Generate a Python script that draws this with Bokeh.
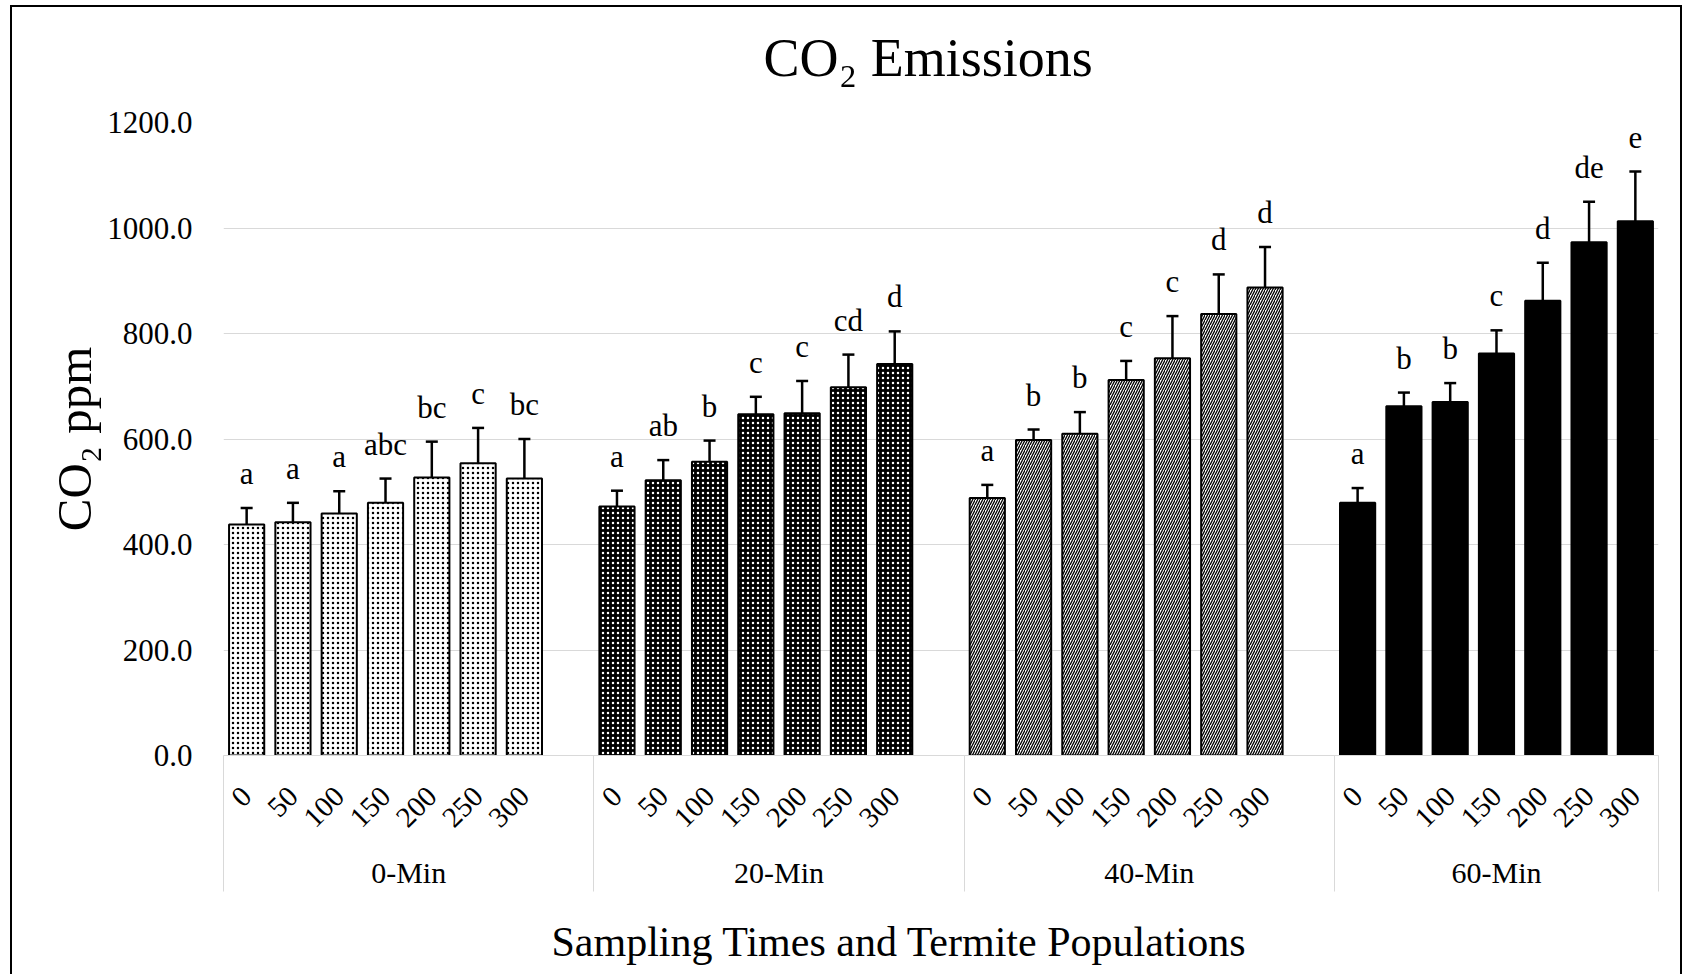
import math
from bokeh.plotting import figure
from bokeh.models import (Range1d, LinearAxis, FixedTicker, NumeralTickFormatter,
                          ColumnDataSource, Whisker, TeeHead, LabelSet, Title)
from bokeh.embed import file_html
from bokeh.resources import INLINE

# ---------------- data ----------------
times = ["0-Min", "20-Min", "40-Min", "60-Min"]
populations = ["0", "50", "100", "150", "200", "250", "300"]

co2_0min = [438, 442, 459, 479, 527, 554, 525]
se_0min = [31, 37, 42, 46, 68, 67, 75]
letters_0min = ["a", "a", "a", "abc", "bc", "c", "bc"]

co2_20min = [472, 522, 557, 647, 649, 698, 742]
se_20min = [30, 38, 40, 33, 61, 62, 62]
letters_20min = ["a", "ab", "b", "c", "c", "cd", "d"]

co2_40min = [488, 598, 610, 712, 753, 837, 887]
se_40min = [25, 20, 41, 36, 80, 75, 77]
letters_40min = ["a", "b", "b", "c", "c", "d", "d"]

co2_60min = [479, 662, 670, 762, 862, 973, 1013]
se_60min = [28, 26, 36, 44, 72, 77, 94]
letters_60min = ["a", "b", "b", "c", "d", "de", "e"]

y_ticks = [0, 200, 400, 600, 800, 1000, 1200]

series = [co2_0min, co2_20min, co2_40min, co2_60min]
errors = [se_0min, se_20min, se_40min, se_60min]
letters = [letters_0min, letters_20min, letters_40min, letters_60min]

FONT = "Liberation Serif"
GRID = "#d9d9d9"

# slot layout: each time group has 7 bars + 1 empty slot (last group has none)
SLOTS_PER_GROUP = 8
n_slots = SLOTS_PER_GROUP * (len(times) - 1) + len(populations)

p = figure(width=1684, height=974, output_backend="svg", toolbar_location=None,
           x_range=Range1d(-0.5, n_slots - 0.5), y_range=Range1d(0, 1200),
           x_axis_location=None, title_location=None,
           min_border_left=223, min_border_right=26, min_border_top=122,
           min_border_bottom=219)
# transparent canvas so the chart-area border (host background) shows through
p.background_fill_color = None
p.border_fill_color = None
p.outline_line_color = None
p.styles = {
    "background": (
        "linear-gradient(#000,#000) 10px 5px / 2px 1200px no-repeat,"
        "linear-gradient(#000,#000) 10px 5px / 1672px 2px no-repeat,"
        "linear-gradient(#000,#000) 1680px 5px / 2px 1200px no-repeat,"
        "#ffffff"
    )
}


def spacer_axis(size):
    """Invisible axis used only to reserve vertical space."""
    ax = LinearAxis(ticker=FixedTicker(ticks=[], minor_ticks=[1.0]))
    ax.axis_line_color = None
    ax.major_tick_line_color = None
    ax.minor_tick_line_color = None
    ax.major_tick_in = 0
    ax.minor_tick_in = 0
    ax.major_tick_out = size
    ax.minor_tick_out = size
    ax.major_label_standoff = 0
    return ax


# chart title (above, pushed up by a spacer)
p.add_layout(spacer_axis(25), "above")
p.add_layout(Title(text="CO\u2082 Emissions", align="left", offset=540, standoff=20,
                   text_font=FONT, text_font_size="54px", text_font_style="normal",
                   text_color="black"), "above")

# y axis
p.yaxis.ticker = FixedTicker(ticks=y_ticks)
p.yaxis.formatter = NumeralTickFormatter(format="0.0")
p.yaxis.major_label_text_font = FONT
p.yaxis.major_label_text_font_size = "31px"
p.yaxis.major_label_text_color = "black"
p.yaxis.axis_line_color = None
p.yaxis.major_tick_line_color = None
p.yaxis.minor_tick_line_color = None
p.yaxis.major_label_standoff = 25
p.yaxis.axis_label = "CO\u2082 ppm"
p.yaxis.axis_label_text_font = FONT
p.yaxis.axis_label_text_font_size = "49px"
p.yaxis.axis_label_text_font_style = "normal"
p.yaxis.axis_label_text_color = "black"
p.yaxis.axis_label_standoff = 2

p.ygrid.ticker = FixedTicker(ticks=y_ticks)
p.ygrid.grid_line_color = GRID
p.xgrid.visible = False

styles = [
    dict(fill_color="white", hatch_pattern="dot", hatch_color="black", hatch_scale=5, hatch_weight=1),
    dict(fill_color="black", hatch_pattern="dot", hatch_color="white", hatch_scale=5, hatch_weight=1),
    dict(fill_color="white", hatch_pattern="right_diagonal_line", hatch_color="black", hatch_scale=5, hatch_weight=1.3),
    dict(fill_color="black"),
]

bar_slots = []
overrides = {}
for g, (vals, errs, lets) in enumerate(zip(series, errors, letters)):
    xs = [g * SLOTS_PER_GROUP + i for i in range(len(vals))]
    bar_slots += xs
    for x, pop in zip(xs, populations):
        overrides[x] = pop
    src = ColumnDataSource(dict(
        x=xs, top=vals,
        upper=[v + e for v, e in zip(vals, errs)],
        lower=[v - e for v, e in zip(vals, errs)],
        letter=lets))
    p.vbar(x="x", top="top", bottom=0, width=0.76, source=src,
           line_color="black", line_width=2, **styles[g])
    p.add_layout(Whisker(source=src, base="x", upper="upper", lower="lower",
                         dimension="height", line_color="black", line_width=2.5,
                         upper_head=TeeHead(size=12, line_width=2.5, line_color="black"),
                         lower_head=TeeHead(size=12, line_width=2.5, line_color="black")))
    p.add_layout(LabelSet(source=src, x="x", y="upper", text="letter", y_offset=24,
                          text_align="center", text_baseline="alphabetic",
                          text_font=FONT, text_font_size="31px", text_color="black"))

# x axis 1: populations (rotated)
ax1 = LinearAxis(ticker=FixedTicker(ticks=bar_slots), major_label_overrides=overrides)
ax1.major_label_orientation = math.pi / 4
ax1.major_label_text_font = FONT
ax1.major_label_text_font_size = "29px"
ax1.major_label_text_color = "black"
ax1.axis_line_color = GRID
ax1.major_tick_line_color = None
ax1.minor_tick_line_color = None
ax1.major_label_standoff = 30
p.add_layout(ax1, "below")

# x axis 2: sampling times, with group separators drawn as minor ticks
group_centers = [g * SLOTS_PER_GROUP + (SLOTS_PER_GROUP - 1) / 2 for g in range(len(times) - 1)]
group_centers.append((len(times) - 1) * SLOTS_PER_GROUP + (len(populations) - 1) / 2)
bounds = [g * SLOTS_PER_GROUP - 0.5 for g in range(len(times))] + [n_slots - 0.5]
ax2 = LinearAxis(ticker=FixedTicker(ticks=group_centers, minor_ticks=bounds),
                 major_label_overrides={c: t for c, t in zip(group_centers, times)})
ax2.major_label_text_font = FONT
ax2.major_label_text_font_size = "30px"
ax2.major_label_text_color = "black"
ax2.axis_line_color = None
ax2.major_tick_line_color = None
ax2.major_tick_out = 0
ax2.minor_tick_line_color = GRID
ax2.minor_tick_line_width = 1
ax2.minor_tick_in = 83
ax2.minor_tick_out = 53
ax2.major_label_standoff = -36
p.add_layout(ax2, "below")

# x axis title (below, pushed down by a spacer, offset to match the reference)
p.add_layout(spacer_axis(24), "below")
p.add_layout(Title(text="Sampling Times and Termite Populations", align="left", offset=328,
                   standoff=2, text_font=FONT, text_font_size="42px",
                   text_font_style="normal", text_color="black"), "below")

open("out.html", "w").write(file_html(p, INLINE))
